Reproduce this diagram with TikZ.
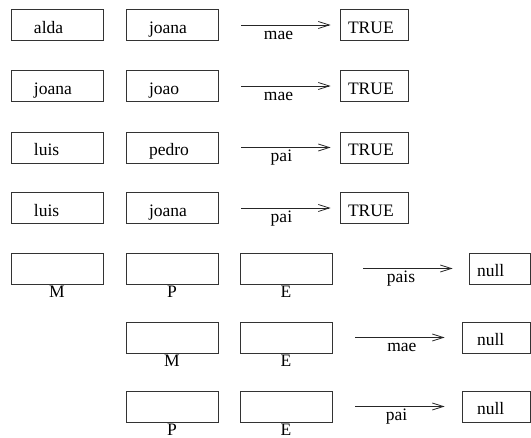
\documentclass[tikz,border=0pt]{standalone}
\usepackage{fontspec}
\setmainfont{Liberation Serif}
\usetikzlibrary{arrows.meta}

\begin{document}
\begin{tikzpicture}[
    x=1pt, y=1pt,            % 1 unit = 1 pixel of the page
    >={Straight Barb[length=11pt,width=7pt]},
    font=\fontsize{17.5}{20}\selectfont,
    cell/.style={draw=black!80, line width=0.8pt, inner xsep=23pt, inner ysep=0pt,
                 text width=46pt, align=left, text height=24pt, text depth=7pt},
    val/.style={draw=black!80, line width=0.8pt, inner xsep=8pt, inner ysep=0pt,
                text width=52pt, align=left, text height=24pt, text depth=7pt},
    lab/.style={inner sep=0.5pt, label distance=0.5pt},
    rel/.style={->, draw=black!85, line width=0.8pt},
    rlab/.style={below, text height=10.5pt, text depth=3pt, pos=.38}
]
    \useasboundingbox (0,0) rectangle (531,438);

    % --- 1. Factos (linhas com dois nomes) ---
    \node[cell] (x1) at (57, 413) {alda};
    \node[cell] (y1) at (172, 413) {joana};
    \node[val]  (res1) at (374, 413) {TRUE};
    \coordinate (s1) at (241, 413);

    \node[cell] (x2) at (57, 352) {joana};
    \node[cell] (y2) at (172, 352) {joao};
    \node[val]  (res2) at (374, 352) {TRUE};
    \coordinate (s2) at (241, 352);

    \node[cell] (x3) at (57, 290.5) {luis};
    \node[cell] (y3) at (172, 290.5) {pedro};
    \node[val]  (res3) at (374, 290.5) {TRUE};
    \coordinate (s3) at (241, 290.5);

    \node[cell] (x4) at (57, 230) {luis};
    \node[cell] (y4) at (172, 230) {joana};
    \node[val]  (res4) at (374, 230) {TRUE};
    \coordinate (s4) at (241, 230);

    % --- 2. Regras (caixas vazias M, P, E) ---
    \node[cell, label={[lab]below:M}] (m5) at (57, 169.5) {};
    \node[cell, label={[lab]below:P}] (p5) at (172, 169.5) {};
    \node[cell, label={[lab]below:E}] (e5) at (286, 169.5) {};
    \node[val, text width=45pt] (res5) at (499.5, 169.5) {null};
    \coordinate (s5) at (363, 169.5);

    \node[cell, label={[lab]below:M}] (m6) at (172, 100.5) {};
    \node[cell, label={[lab]below:E}] (e6) at (286, 100.5) {};
    \node[val, inner xsep=15pt, text width=38pt] (res6) at (496, 100.5) {null};
    \coordinate (s6) at (355, 100.5);

    \node[cell, label={[lab]below:P}] (p7) at (172, 31.5) {};
    \node[cell, label={[lab]below:E}] (e7) at (286, 31.5) {};
    \node[val, inner xsep=15pt, text width=38pt] (res7) at (496, 31.5) {null};
    \coordinate (s7) at (355, 31.5);

    % --- 3. Setas (Arrows) ---
    \draw[rel, shorten >=9pt] (s1) -- node[rlab] {mae} (res1);
    \draw[rel, shorten >=9pt] (s2) -- node[rlab] {mae} (res2);
    \draw[rel, shorten >=9pt] (s3) -- node[rlab, pos=.41] {pai} (res3);
    \draw[rel, shorten >=9pt] (s4) -- node[rlab, pos=.41] {pai} (res4);

    \draw[rel, shorten >=16pt] (s5) -- node[rlab, pos=.36] {pais} (res5);
    \draw[rel, shorten >=17pt] (s6) -- node[rlab, pos=.44] {mae} (res6);
    \draw[rel, shorten >=17pt] (s7) -- node[rlab, pos=.39] {pai} (res7);

\end{tikzpicture}
\end{document}
